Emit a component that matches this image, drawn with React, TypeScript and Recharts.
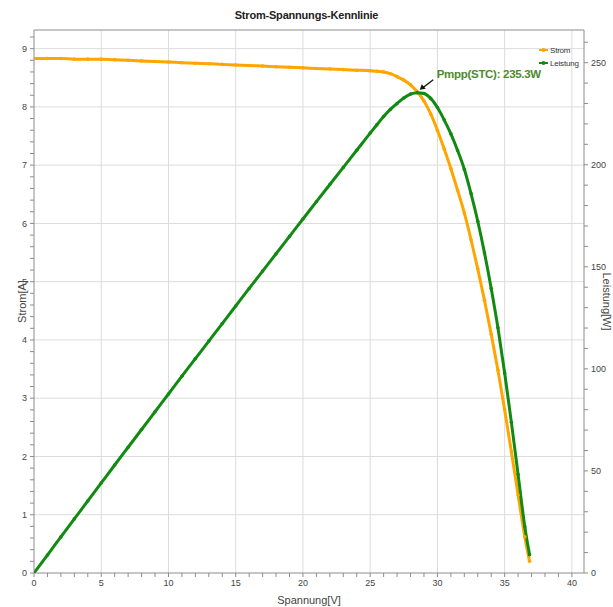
import {
  LineChart,
  Line,
  XAxis,
  YAxis,
  ReferenceLine,
  ReferenceDot,
} from "recharts";

// Spannung [V] – sample points along the curve
const voltages = [
  0, 1, 2, 3, 4, 5, 6, 7, 8, 9, 10, 11, 12, 13, 14, 15, 16, 17, 18, 19, 20,
  21, 22, 23, 24, 25, 25.5, 26, 26.5, 27, 27.5, 28, 28.5, 29, 29.5, 30, 30.5,
  31, 31.5, 32, 32.5, 33, 33.5, 34, 34.5, 35, 35.5, 36, 36.5, 36.85,
];

// Strom [A]
const current = [
  8.83, 8.83, 8.83, 8.82, 8.82, 8.82, 8.81, 8.8, 8.79, 8.78, 8.77, 8.76, 8.75,
  8.74, 8.73, 8.72, 8.71, 8.7, 8.69, 8.68, 8.67, 8.66, 8.65, 8.64, 8.63, 8.62,
  8.61, 8.6, 8.57, 8.52, 8.46, 8.38, 8.26, 8.1, 7.88, 7.6, 7.28, 6.94, 6.57,
  6.18, 5.72, 5.22, 4.68, 4.1, 3.48, 2.8, 2.08, 1.34, 0.62, 0.2,
];

// Leistung [W]
const power = [
  0, 8.8, 17.7, 26.5, 35.3, 44.1, 52.9, 61.6, 70.3, 79.0, 87.7, 96.4, 105.0,
  113.6, 122.2, 130.8, 139.4, 147.9, 156.4, 164.9, 173.4, 181.9, 190.3, 198.7,
  207.1, 215.5, 219.6, 223.6, 227.1, 230.0, 232.7, 234.6, 235.3, 234.9, 232.5,
  228.0, 222.0, 215.1, 207.0, 197.8, 185.9, 172.3, 156.8, 139.4, 120.1, 98.0,
  73.8, 48.2, 22.6, 9.0,
];

const mppVoltage = 28.5;
const mppPower = 235.3;
const mppLabel = "Pmpp(STC): 235.3W";

// ticks: minor every step, labels only on majors
const xTicks = Array.from({ length: 41 }, (_, i) => i);
const xLabels = [0, 5, 10, 15, 20, 25, 30, 35, 40];
const leftTicks = Array.from({ length: 47 }, (_, i) => Math.round(i * 2) / 10);
const leftLabels = [0, 1, 2, 3, 4, 5, 6, 7, 8, 9];
const rightTicks = Array.from({ length: 27 }, (_, i) => i * 10);
const rightLabels = [0, 50, 100, 150, 200, 250];
const gridX = [5, 10, 15, 20, 25, 30, 35, 40];
const gridY = [1, 2, 3, 4, 5, 6, 7, 8, 9];

const FONT =
  '"Liberation Sans Narrow", "Arial Narrow", "Liberation Sans", sans-serif';
const ORANGE = "#FFA500";
const GREEN = "#118a11";
const AXIS = "#8c8c8c";
const GRID = "#dcdcdc";
const TEXT = "#444";

const rows = voltages.map((v, i) => ({
  v,
  strom: current[i],
  leistung: power[i],
}));

const makeTick = (labels: number[], dy: string) => (props: any) => {
  const { x, y, payload, textAnchor } = props;
  const val = payload.value;
  if (!labels.some((l) => Math.abs(l - val) < 1e-6)) return <g />;
  return (
    <text
      x={x}
      y={y}
      dy={dy}
      textAnchor={textAnchor}
      fontSize={9}
      fontFamily={FONT}
      fill={TEXT}
    >
      {val}
    </text>
  );
};

const MppNote = ({ cx, cy }: { cx: number; cy: number }) => {
  const tipX = cx + 2.5;
  const tipY = cy - 3;
  const tailX = cx + 16;
  const tailY = cy - 13;
  return (
    <g>
      <line x1={tailX} y1={tailY} x2={tipX + 3} y2={tipY - 2} stroke="#111" strokeWidth={1.3} />
      <polygon
        points={`${tipX},${tipY} ${tipX + 2},${tipY - 5.5} ${tipX + 6},${tipY - 1}`}
        fill="#111"
      />
      <text
        x={cx + 19.5}
        y={cy - 15}
        fontSize={11.5}
        fontWeight="bold"
        fontFamily={FONT}
        fill="#4e8a2e"
        letterSpacing={-0.3}
      >
        {mppLabel}
      </text>
    </g>
  );
};

const LegendRow = ({ color, name }: { color: string; name: string }) => (
  <div style={{ display: "flex", alignItems: "center", height: 12.7 }}>
    <svg width={9} height={6} style={{ marginRight: 2 }}>
      <line x1={0} y1={3} x2={9} y2={3} stroke={color} strokeWidth={2} />
      <circle cx={4.5} cy={3} r={2} fill={color} />
    </svg>
    <span style={{ fontSize: 8, color: "#333", fontFamily: FONT, letterSpacing: -0.2 }}>
      {name}
    </span>
  </div>
);

export default function App() {
  return (
    <div
      style={{
        position: "absolute",
        left: 0,
        top: 0,
        width: 613,
        height: 607,
        background: "#fff",
        fontFamily: FONT,
        overflow: "hidden",
      }}
    >
      <div
        style={{
          position: "absolute",
          top: 9,
          left: 0,
          width: 613,
          textAlign: "center",
          fontSize: 11,
          fontWeight: "bold",
          color: "#222",
          letterSpacing: -0.2,
        }}
      >
        Strom-Spannungs-Kennlinie
      </div>
      <LineChart
        width={613}
        height={607}
        data={rows}
        margin={{ top: 30, right: 0, bottom: 0, left: 0 }}
      >
        {gridX.map((g) => (
          <ReferenceLine key={`gx${g}`} x={g} yAxisId="left" stroke={GRID} />
        ))}
        {gridY.map((g) => (
          <ReferenceLine key={`gy${g}`} y={g} yAxisId="left" stroke={GRID} />
        ))}
        <ReferenceLine y={9.32} yAxisId="left" stroke={AXIS} />
        <XAxis
          type="number"
          dataKey="v"
          domain={[0, 40.9]}
          ticks={xTicks}
          interval={0}
          height={34}
          tickSize={4}
          tickMargin={3}
          stroke={AXIS}
          tick={makeTick(xLabels, "0.71em")}
          allowDataOverflow
          label={{
            value: "Spannung[V]",
            position: "insideBottom",
            offset: 3,
            fontSize: 11,
            fontFamily: FONT,
            fill: TEXT,
          }}
        />
        <YAxis
          yAxisId="left"
          type="number"
          domain={[0, 9.32]}
          ticks={leftTicks}
          interval={0}
          width={34}
          tickSize={4}
          tickMargin={3}
          stroke={AXIS}
          tick={makeTick(leftLabels, "0.355em")}
          allowDataOverflow
          label={{
            value: "Strom[A]",
            position: "center",
            angle: -90,
            dx: 5,
            fontSize: 11,
            fontFamily: FONT,
            fill: TEXT,
          }}
        />
        <YAxis
          yAxisId="right"
          orientation="right"
          type="number"
          domain={[0, 266]}
          ticks={rightTicks}
          interval={0}
          width={29}
          tickSize={4}
          tickMargin={3}
          stroke={AXIS}
          tick={makeTick(rightLabels, "0.355em")}
          allowDataOverflow
          label={{
            value: "Leistung[W]",
            position: "center",
            angle: 90,
            dx: 8,
            fontSize: 11,
            fontFamily: FONT,
            fill: TEXT,
          }}
        />
        <Line
          yAxisId="left"
          dataKey="strom"
          name="Strom"
          type="monotone"
          stroke={ORANGE}
          strokeWidth={3}
          dot={{ r: 1.8, fill: ORANGE, stroke: "none" }}
          isAnimationActive={false}
        />
        <Line
          yAxisId="right"
          dataKey="leistung"
          name="Leistung"
          type="monotone"
          stroke={GREEN}
          strokeWidth={3}
          dot={{ r: 1.8, fill: GREEN, stroke: "none" }}
          isAnimationActive={false}
        />
        <ReferenceDot
          yAxisId="right"
          x={mppVoltage}
          y={mppPower}
          r={0}
          shape={(p: any) => <MppNote cx={p.cx} cy={p.cy} />}
        />
      </LineChart>
      <div style={{ position: "absolute", left: 539, top: 44 }}>
        <LegendRow color={ORANGE} name="Strom" />
        <LegendRow color={GREEN} name="Leistung" />
      </div>
    </div>
  );
}
